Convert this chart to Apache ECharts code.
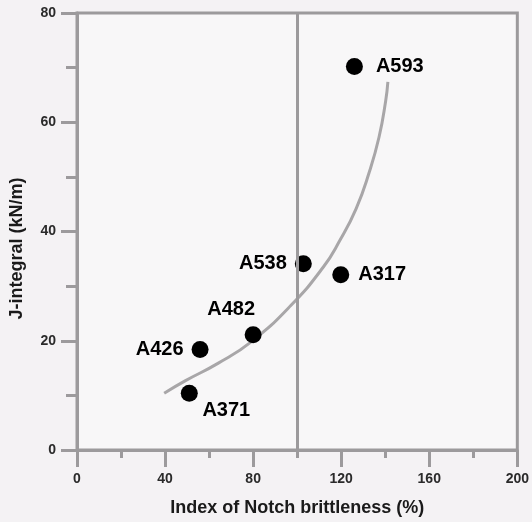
<!DOCTYPE html>
<html>
<head>
<meta charset="utf-8">
<script src="https://cdn.jsdelivr.net/npm/echarts@6/dist/echarts.min.js"></script>
<style>
html,body{margin:0;padding:0;background:#f4f2f4;}
#c{width:532px;height:522px;}
</style>
</head>
<body>
<div id="c"></div>
<script>
var pointNames = ['A593', 'A538', 'A317', 'A482', 'A426', 'A371'];
var pointX = [126, 102.8, 119.8, 80, 55.9, 51];
var pointY = [70.2, 34.1, 32.1, 21.1, 18.4, 10.4];
var curveX = [39.6, 49.3, 64.2, 79.1, 97.0, 111.9, 119.3, 126.8, 132.7, 137.2, 140.2, 141.2];
var curveY = [10.4, 12.7, 15.9, 19.8, 26.4, 33.5, 38.3, 44.2, 50.8, 57.3, 63.9, 67.4];
var xTicks = [0, 40, 80, 120, 160, 200];
var yTicks = [0, 20, 40, 60, 80];
var refLineX = 100;

var labelStyles = {
  A593: {position: 'right', distance: 13},
  A538: {position: 'left', distance: 8},
  A317: {position: 'right', distance: 9},
  A482: {position: 'inside', offset: [-22, -25]},
  A426: {position: 'left', distance: 8},
  A371: {position: 'inside', offset: [37, 17]}
};

var scatterData = pointNames.map(function (n, i) {
  return {name: n, value: [pointX[i], pointY[i]], label: labelStyles[n]};
});
var curveData = curveX.map(function (x, i) { return [x, curveY[i]]; });

var axisGrey = '#9c9a9c';
var chart = echarts.init(document.getElementById('c'));
chart.setOption({
  backgroundColor: '#f4f2f4',
  animation: false,
  grid: {left: 73, right: 11.5, top: 13, bottom: 61, show: true,
    backgroundColor: '#f8f7f8', borderColor: axisGrey, borderWidth: 3},
  xAxis: {
    type: 'value', min: 0, max: 200, interval: 40,
    name: 'Index of Notch brittleness (%)', nameLocation: 'middle', nameGap: 49,
    nameTextStyle: {fontFamily: 'Liberation Sans', fontWeight: 'bold', fontSize: 18, color: '#1a1a1a'},
    axisLine: {show: true, onZero: false, lineStyle: {color: axisGrey, width: 3}},
    axisTick: {show: true, length: 17, lineStyle: {color: axisGrey, width: 3}},
    minorTick: {show: true, splitNumber: 2, length: 8, lineStyle: {color: axisGrey, width: 3}},
    axisLabel: {margin: 22, fontFamily: 'Liberation Sans', fontWeight: 'bold', fontSize: 14, color: '#2a2a2a',
      formatter: function (v) { return xTicks.indexOf(v) >= 0 ? String(v) : ''; }},
    splitLine: {show: false}
  },
  yAxis: {
    type: 'value', min: 0, max: 80, interval: 20,
    name: 'J-integral (kN/m)', nameLocation: 'middle', nameGap: 51, nameRotate: 90,
    nameTextStyle: {fontFamily: 'Liberation Sans', fontWeight: 'bold', fontSize: 18, color: '#1a1a1a',
      padding: [0, 34, 0, 0]},
    axisLine: {show: true, onZero: false, lineStyle: {color: axisGrey, width: 3}},
    axisTick: {show: true, length: 16, lineStyle: {color: axisGrey, width: 3}},
    minorTick: {show: true, splitNumber: 2, length: 11, lineStyle: {color: axisGrey, width: 3}},
    axisLabel: {margin: 21, fontFamily: 'Liberation Sans', fontWeight: 'bold', fontSize: 14, color: '#2a2a2a',
      formatter: function (v) { return yTicks.indexOf(v) >= 0 ? String(v) : ''; }},
    splitLine: {show: false}
  },
  series: [
    {
      type: 'line', data: curveData, smooth: 0.5, showSymbol: false, symbol: 'none',
      lineStyle: {color: '#a8a6a8', width: 3}, z: 2, silent: true
    },
    {
      type: 'scatter', data: scatterData, symbolSize: 17,
      itemStyle: {color: '#000', opacity: 1}, z: 3,
      label: {show: true, formatter: '{b}', fontFamily: 'Liberation Sans', fontWeight: 'bold',
        fontSize: 20, color: '#000'},
      markLine: {
        silent: true, symbol: ['none', 'none'], label: {show: false},
        lineStyle: {color: axisGrey, width: 3, type: 'solid'},
        data: [{xAxis: refLineX}]
      }
    }
  ]
});
</script>
</body>
</html>
